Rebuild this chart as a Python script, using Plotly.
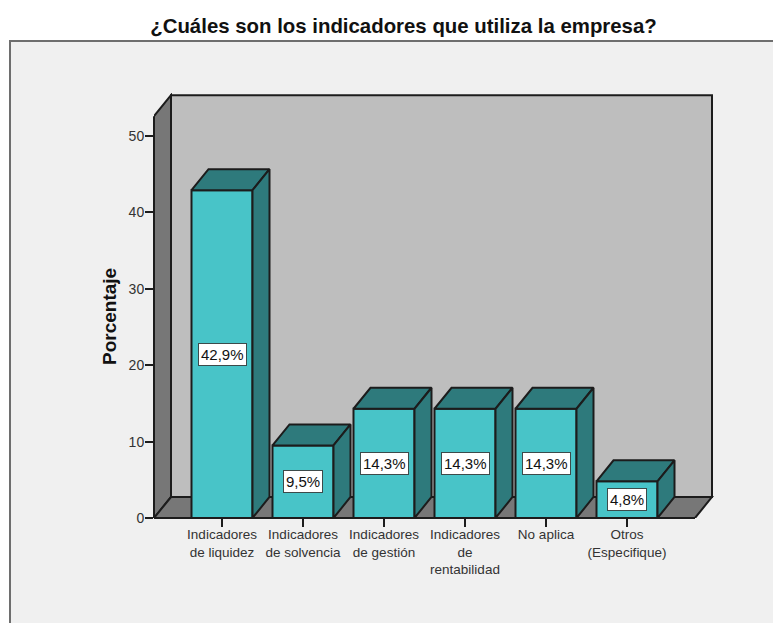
import plotly.graph_objects as go

# Datos
categories = ["Indicadores<br>de liquidez", "Indicadores<br>de solvencia", "Indicadores<br>de gestión",
              "Indicadores<br>de<br>rentabilidad", "No aplica", "Otros<br>(Especifique)"]
values = [42.9, 9.5, 14.3, 14.3, 14.3, 4.8]
labels = ["42,9%", "9,5%", "14,3%", "14,3%", "14,3%", "4,8%"]
y_ticks = [0, 10, 20, 30, 40, 50]

positions = list(range(len(values)))

# pixel scale of the chart, used for the fake 3D depth
px_x = 81.0
px_y = 7.64
depth_x = 17 / px_x
depth_y = 21 / px_y
bar_w = 61 / px_x
wall_top = 52.6
x_left = -68 / px_x
x_right = positions[-1] + 68 / px_x

plot_l, plot_r, plot_t, plot_b = 154, 714, 93, 518
page_margin = 8  # the browser adds this to the body
fig_w = 781 + page_margin
fig_h = 623 + page_margin
x_max = x_left + (plot_r - plot_l) / px_x
y_max = (plot_b - plot_t) / px_y

LINE = "#1c1c1c"
BAR = "#48c4c8"
BAR_DARK = "#2e7a7c"
WALL = "#bebebe"
SIDE = "#777777"


def path(points):
    return "M " + " L ".join(f"{x} {y}" for x, y in points) + " Z"


def wall(points, color):
    return dict(type="path", path=path(points), xref="x", yref="y", layer="below",
                fillcolor=color, line=dict(color=LINE, width=2))


fig = go.Figure()

# front of the bars
fig.add_trace(go.Bar(x=positions, y=values, width=bar_w, cliponaxis=False,
                     marker=dict(color=BAR, line=dict(color=LINE, width=2)), hoverinfo="skip"))

# top and side faces of each bar
for x, v in zip(positions, values):
    x0 = x - bar_w / 2
    x1 = x + bar_w / 2
    top_x = [x0, x0 + depth_x, x1 + depth_x, x1, x0]
    top_y = [v, v + depth_y, v + depth_y, v, v]
    side_x = [x1, x1 + depth_x, x1 + depth_x, x1, x1]
    side_y = [0, depth_y, v + depth_y, v, 0]
    for fx, fy in [(top_x, top_y), (side_x, side_y)]:
        fig.add_trace(go.Scatter(x=fx, y=fy, mode="lines", fill="toself", fillcolor=BAR_DARK,
                                 line=dict(color=LINE, width=2), hoverinfo="skip", cliponaxis=False))

shapes = [
    # grey panel behind the chart
    dict(type="rect", xref="paper", yref="paper", layer="below",
         x0=(10 - plot_l) / (plot_r - plot_l), x1=(810 - plot_l) / (plot_r - plot_l),
         y0=(plot_b - 660) / (plot_b - plot_t), y1=(plot_b - 41) / (plot_b - plot_t),
         fillcolor="#f0f0f0", line=dict(color="#6e6e6e", width=2)),
    wall([(x_left + depth_x, depth_y), (x_left + depth_x, wall_top + depth_y),
          (x_right + depth_x, wall_top + depth_y), (x_right + depth_x, depth_y)], WALL),
    wall([(x_left, 0), (x_left + depth_x, depth_y), (x_left + depth_x, wall_top + depth_y), (x_left, wall_top)], SIDE),
    wall([(x_left, 0), (x_left + depth_x, depth_y), (x_right + depth_x, depth_y), (x_right, 0)], SIDE),
    # left edge and baseline are clipped otherwise
    dict(type="line", xref="paper", yref="y", x0=0, x1=0, y0=0, y1=wall_top, line=dict(color=LINE, width=2)),
    dict(type="line", xref="x", yref="paper", x0=x_left, x1=x_right, y0=0, y1=0, line=dict(color=LINE, width=2)),
]

annotations = [
    dict(x=x, y=v / 2, xref="x", yref="y", text=t, showarrow=False, bgcolor="white",
         bordercolor="#3c4a4a", borderwidth=1, borderpad=2,
         font=dict(family="Liberation Sans", size=15, color="#111111"))
    for x, v, t in zip(positions, values, labels)
]
annotations.append(dict(x=(109 - plot_l) / (plot_r - plot_l), y=(plot_b - 317) / (plot_b - plot_t),
                        xref="paper", yref="paper", xanchor="center", yanchor="middle",
                        text="<b>Porcentaje</b>", textangle=-90, showarrow=False,
                        font=dict(family="Liberation Sans", size=19, color="#111111")))

fig.update_layout(
    width=fig_w, height=fig_h, showlegend=False, autosize=False,
    paper_bgcolor="white", plot_bgcolor="rgba(0,0,0,0)",
    margin=dict(l=plot_l - page_margin, r=fig_w - plot_r + page_margin, t=plot_t - page_margin,
                b=fig_h - plot_b + page_margin, pad=0),
    title=dict(text="<b>¿Cuáles son los indicadores que utiliza la empresa?</b>",
               xref="container", yref="container", x=(403.5 - page_margin) / fig_w,
               y=1 - (26 - page_margin) / fig_h, xanchor="center", yanchor="middle",
               font=dict(family="Liberation Sans", size=20.4, color="#111111")),
    shapes=shapes, annotations=annotations,
)
fig.update_xaxes(range=[x_left, x_max], tickvals=positions, ticktext=categories, ticks="outside",
                 ticklen=8, tickwidth=2, tickcolor=LINE, showgrid=False, zeroline=False, showline=False,
                 tickangle=0, ticklabelstandoff=-4,
                 tickfont=dict(family="Liberation Sans", size=13.5, color="#333333"))
fig.update_yaxes(range=[0, y_max], tickvals=y_ticks, ticks="outside", ticklen=8, tickwidth=2, tickcolor=LINE,
                 showgrid=False, zeroline=False, showline=False, ticklabelstandoff=-2,
                 tickfont=dict(family="Liberation Sans", size=14, color="#333333"))

fig.write_html("out.html")
